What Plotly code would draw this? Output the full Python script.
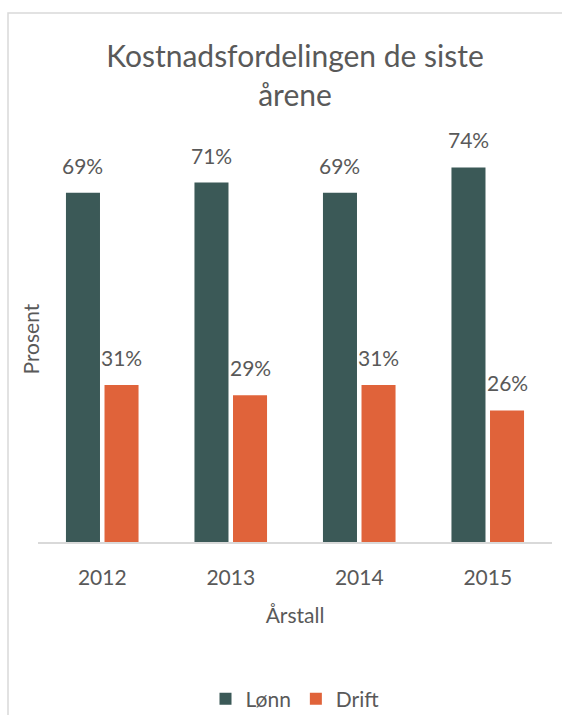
import plotly.graph_objects as go

years = ["2012", "2013", "2014", "2015"]
lonn = [69, 71, 69, 74]
drift = [31, 29, 31, 26]
series_names = ["Lønn", "Drift"]
colors = ["#3B5957", "#E0633A"]

title_text = "Kostnadsfordelingen de siste<br>årene"
x_title = "Årstall"
y_title = "Prosent"

FONT = "Lato"
TXT = "#595959"

W, H = 562, 715
L, R, T, B = 38, 10, 137, 173
YMAX = 80

fig = go.Figure()
for name, vals, col in zip(series_names, [lonn, drift], colors):
    fig.add_trace(go.Bar(
        x=years, y=vals, name=name, marker=dict(color=col, line=dict(width=0)),
        hoverinfo="skip",
    ))

pw = W - L - R
ph = H - T - B
slot = pw / len(years) * (1 - 0.40) / 2
annotations = []
for i, vals in enumerate([lonn, drift]):
    shift = (-0.5 + i) * slot
    for idx, v in enumerate(vals):
        annotations.append(dict(
            x=idx, y=v, xref="x", yref="y", text=f"{v}%", showarrow=False,
            xshift=shift, yshift=13, yanchor="bottom",
            font=dict(family=FONT, size=21, color=TXT),
        ))

annotations.append(dict(
    x=(30 - L) / pw, y=0.5, xref="paper", yref="paper", text=y_title, showarrow=False,
    textangle=-90, xanchor="center", yanchor="middle",
    font=dict(family=FONT, size=21, color=TXT),
))

fig.add_shape(type="rect", xref="paper", yref="paper",
              x0=(8 - L) / pw, x1=(W + 20 - L) / pw,
              y0=(H - B - (H + 20)) / ph,
              y1=(H - B - 13) / ph,
              line=dict(color="#D9D9D9", width=1.5), fillcolor="rgba(0,0,0,0)", layer="below")

fig.update_layout(
    width=W, height=H,
    margin=dict(l=L, r=R, t=T, b=B, autoexpand=False),
    paper_bgcolor="white", plot_bgcolor="white",
    barmode="group", bargap=0.40, bargroupgap=0.117,
    font=dict(family=FONT, color=TXT),
    title=dict(text=title_text, x=0.5, xanchor="center", xref="paper",
               y=1 - 67 / H, yref="container", yanchor="top",
               font=dict(family=FONT, size=30, color=TXT)),
    xaxis=dict(type="category", range=[-0.5, len(years) - 0.5], autorange=False,
               automargin=False,
               showgrid=False, showline=True, linecolor="#D9D9D9", linewidth=1.5,
               ticks="", tickfont=dict(family=FONT, size=21, color=TXT),
               ticklabelstandoff=16,
               title=dict(text=x_title, font=dict(family=FONT, size=21, color=TXT), standoff=20)),
    yaxis=dict(range=[0, YMAX], autorange=False, automargin=False,
               showgrid=False, showline=False, showticklabels=False,
               zeroline=False, ticks=""),
    legend=dict(orientation="h", x=0.5, xanchor="center", y=(542 - 699) / ph, yanchor="middle",
                font=dict(family=FONT, size=21, color=TXT), itemwidth=30,
                traceorder="normal"),
    showlegend=True,
    annotations=annotations,
)

fig.write_html("out.html", config={"displayModeBar": False},
               post_script="document.body.style.margin='0';")
